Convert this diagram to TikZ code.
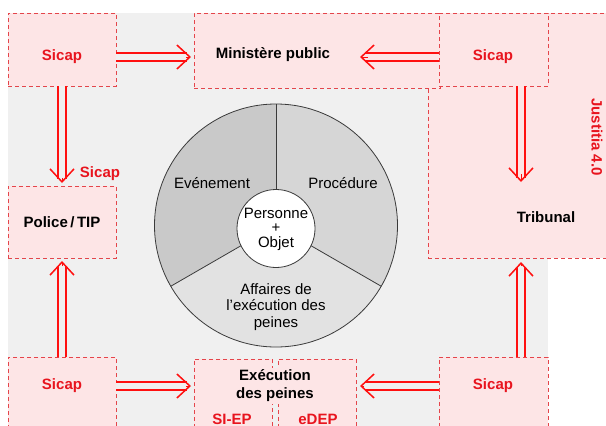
\documentclass[tikz,border=0pt]{standalone}
\usepackage{fontspec}
\setmainfont{Liberation Sans}
\usepackage{xcolor}
\usetikzlibrary{arrows.meta,calc}
\definecolor{bg}{HTML}{F0F0F0}
\definecolor{zonefill}{HTML}{FDE5E6}
\definecolor{zoneline}{HTML}{E4454B}
\definecolor{sred}{HTML}{E8141E}
\definecolor{arred}{HTML}{FF1010}
\definecolor{evt}{HTML}{C9C9C9}
\definecolor{proc}{HTML}{D6D6D6}
\definecolor{exe}{HTML}{E2E2E2}
\definecolor{rim}{HTML}{3A3A3A}
\tikzset{
  zone/.style={draw=zoneline, fill=zonefill, dash pattern=on 4pt off 3pt, line width=0.9pt,
    anchor=north west, inner sep=0pt, outer sep=0pt},
  flow/.style={draw=arred, line width=1.5pt, double=bg, double distance=6.5pt},
  head/.style={draw=arred, line width=0.1pt,
    -{Straight Barb[length=13pt,width=24pt,line width=1.5pt]}},
  tagred/.style={text=sred, font=\fontsize{15}{18}\selectfont\bfseries},
  tagblk/.style={text=black, font=\fontsize{15}{18}\selectfont\bfseries, align=center},
  seg/.style={draw=rim, line width=0.8pt},
  lab/.style={font=\fontsize{15}{16.7}\selectfont, align=center},
}

\begin{document}
\begin{tikzpicture}[x=1pt,y=-1pt]
  \useasboundingbox (0,0) rectangle (606,426);
  \clip (0,0) rectangle (606,426);
  \fill[bg] (8,13) rectangle (548,430);

  % Justitia 4.0 frame first, the other boxes lie on top of it
  \node[zone, minimum width=200pt, minimum height=245pt] (just) at (428,13) {};
  \node[zone, minimum width=246pt, minimum height=75pt] (mp) at (194,13) {};
  \node[zone, minimum width=108pt, minimum height=73pt] (sTL) at (8,13) {};
  \node[zone, minimum width=109pt, minimum height=73pt] (sTR) at (439,13) {};
  \node[zone, minimum width=108pt, minimum height=72pt] (pol) at (8,186) {};
  \node[zone, minimum width=108pt, minimum height=80pt] (sBL) at (8,357) {};
  \node[zone, minimum width=78pt, minimum height=80pt] (siep) at (194,359) {};
  \node[zone, minimum width=78pt, minimum height=80pt] (edep) at (278,359) {};
  \node[zone, minimum width=109pt, minimum height=80pt] (sBR) at (439,357) {};

  \node[tagred] (tTL) at (62,57) {Sicap};
  \node[tagred] (tTR) at (493,57) {Sicap};
  \node[tagred] (tBL) at (62,386) {Sicap};
  \node[tagred] (tBR) at (493,386) {Sicap};
  \node[tagred] (tPol) at (100,174) {Sicap};
  \node[tagblk] (tMp) at (273,55) {Ministère public};
  \node[tagblk] (tPolice) at (62,222) {Police\,/\,TIP};
  \node[tagblk] (tTrib) at (546,217) {Tribunal};
  \node[tagred, rotate=-90] (tJus) at (597,137) {Justitia 4.0};
  \node[tagblk, fill=zonefill, inner sep=2pt] (tExe) at (275,386) {Exécution\\des peines};
  \node[tagred] (tSiep) at (232,419) {SI-EP};
  \node[tagred] (tEdep) at (318,419) {eDEP};

  % wheel
  \coordinate (ctr) at (276,225.5);
  \fill[evt] (ctr) -- ++(-90:121.5) arc[start angle=-90, end angle=-210, radius=121.5] -- cycle;
  \fill[proc] (ctr) -- ++(-90:121.5) arc[start angle=-90, end angle=30, radius=121.5] -- cycle;
  \fill[exe] (ctr) -- ++(-210:121.5) arc[start angle=-210, end angle=-330, radius=121.5] -- cycle;
  \foreach \a in {-90,-210,-330}
    \draw[seg] (ctr) -- ++(\a:121.5);
  \draw[seg] (ctr) circle[radius=121.5];
  \draw[seg, fill=white] (276,228.5) circle[radius=39];
  \node[lab] (tEvt) at (212,183) {Evénement};
  \node[lab] (tProc) at (343,183) {Procédure};
  \node[lab, font=\fontsize{15}{14.5}\selectfont] (tPers) at (276,229) {Personne\\+\\Objet};
  \node[lab] (tAff) at (276,307) {Affaires de\\l'exécution des\\peines};

  % Sicap links
  \coordinate (mpIn) at (360,57);
  \coordinate (tribIn) at (521,182);
  \foreach \s/\t/\g/\c in {sTL.east |- tTL/mp.west |- tTL/3/bg,
                           sTR.west |- tTR/mpIn/0/zonefill,
                           sTL.south/pol.north/3/bg,
                           sBL.north/pol.south/3/bg,
                           sBL.east |- tBL/siep.west |- tBL/3/bg,
                           sBR.west |- tBR/edep.east |- tBR/4/bg,
                           sTR.south -| tribIn/tribIn/0/zonefill,
                           sBR.north -| tribIn/just.south -| tribIn/4/bg}
  {
    \draw[flow, double=\c, shorten >={\g pt+4.5pt}] (\s) -- (\t);
    \draw[head, shorten >=\g pt] ($(\t)!8pt!(\s)$) -- (\t);
  }
\end{tikzpicture}
\end{document}
